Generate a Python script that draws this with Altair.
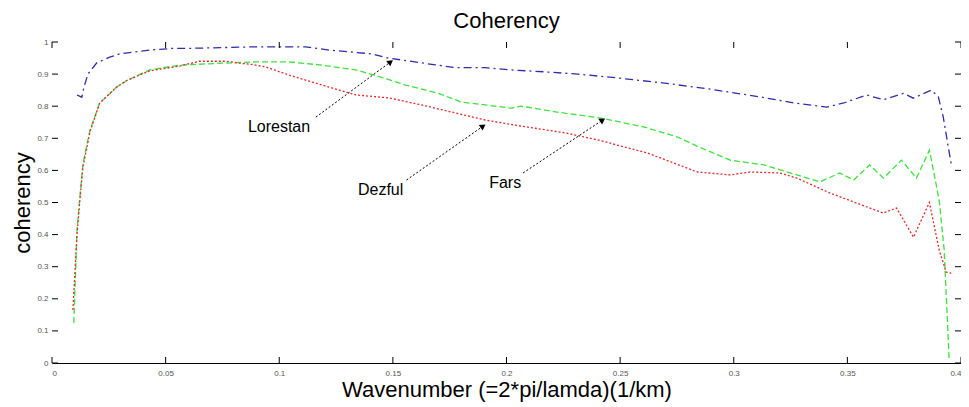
import math
import altair as alt
import pandas as pd

# ---- data ----
lorestan_x = [0.0110, 0.0131, 0.0140, 0.0158, 0.0197, 0.0254, 0.0298, 0.0429, 0.0530, 0.0590,
              0.0898, 0.1117, 0.1218, 0.1407, 0.1480, 0.1626, 0.1775, 0.1906, 0.2020, 0.2169,
              0.2314, 0.2489, 0.2695, 0.2897, 0.3116, 0.3265, 0.3409, 0.3484, 0.3585, 0.3659,
              0.3747, 0.3790, 0.3869, 0.3900, 0.3922, 0.3944, 0.3957]
lorestan_y = [0.835, 0.828, 0.857, 0.900, 0.935, 0.953, 0.963, 0.975, 0.980, 0.980,
              0.985, 0.985, 0.975, 0.963, 0.950, 0.935, 0.920, 0.920, 0.913, 0.907,
              0.900, 0.888, 0.872, 0.853, 0.829, 0.810, 0.797, 0.810, 0.835, 0.820,
              0.840, 0.825, 0.850, 0.830, 0.766, 0.673, 0.620]

fars_x = [0.0096, 0.0110, 0.0123, 0.0136, 0.0167, 0.0210, 0.0241, 0.0285, 0.0329, 0.0429,
          0.0561, 0.0749, 0.0898, 0.1043, 0.1188, 0.1337, 0.1450, 0.1556, 0.1700, 0.1801,
          0.1906, 0.2020, 0.2064, 0.2239, 0.2415, 0.2607, 0.2752, 0.2840, 0.2984, 0.3133,
          0.3278, 0.3379, 0.3466, 0.3528, 0.3598, 0.3659, 0.3738, 0.3804, 0.3861, 0.3904,
          0.3926, 0.3948]
fars_y = [0.125, 0.414, 0.520, 0.620, 0.725, 0.810, 0.830, 0.860, 0.880, 0.913,
          0.928, 0.934, 0.938, 0.938, 0.928, 0.913, 0.890, 0.866, 0.840, 0.813,
          0.804, 0.794, 0.800, 0.780, 0.763, 0.735, 0.704, 0.675, 0.632, 0.617,
          0.586, 0.564, 0.592, 0.570, 0.617, 0.576, 0.632, 0.576, 0.663, 0.508,
          0.352, 0.010]

dezful_x = [0.0092, 0.0110, 0.0123, 0.0136, 0.0167, 0.0210, 0.0285, 0.0329, 0.0429, 0.0561,
            0.0649, 0.0767, 0.0824, 0.0881, 0.0942, 0.1043, 0.1188, 0.1337, 0.1481, 0.1626,
            0.1775, 0.1906, 0.2038, 0.2257, 0.2401, 0.2621, 0.2840, 0.2984, 0.3072, 0.3203,
            0.3278, 0.3422, 0.3541, 0.3659, 0.3716, 0.3791, 0.3861, 0.3904, 0.3935, 0.3957]
dezful_y = [0.165, 0.400, 0.510, 0.610, 0.720, 0.810, 0.860, 0.880, 0.910, 0.925,
            0.940, 0.940, 0.934, 0.930, 0.922, 0.897, 0.866, 0.835, 0.826, 0.804,
            0.779, 0.757, 0.741, 0.717, 0.695, 0.654, 0.595, 0.586, 0.595, 0.592,
            0.576, 0.530, 0.498, 0.467, 0.483, 0.392, 0.500, 0.352, 0.283, 0.280]

series_names = ["Lorestan", "Fars", "Dezful"]
series_colors = ["#2e2ea6", "#3ee03e", "#e02a2a"]
series_dashes = [[8, 4, 2, 4], [6, 3], [2, 2]]

x_ticks = [0, 0.05, 0.1, 0.15, 0.2, 0.25, 0.3, 0.35, 0.4]
y_ticks = [0, 0.1, 0.2, 0.3, 0.4, 0.5, 0.6, 0.7, 0.8, 0.9, 1]

label_text = ["Lorestan", "Dezful", "Fars"]
label_x = [0.0999, 0.1446, 0.1994]
label_y = [0.735, 0.539, 0.561]
arrow_x1 = [0.1161, 0.1560, 0.2073]
arrow_y1 = [0.766, 0.570, 0.592]
arrow_x2 = [0.1490, 0.1897, 0.2423]
arrow_y2 = [0.938, 0.738, 0.757]

# ---- layout ----
W, H = 909, 321
XMAX = 0.4

rows = []
for name, xs_, ys_ in zip(series_names, [lorestan_x, fars_x, dezful_x], [lorestan_y, fars_y, dezful_y]):
    for i, (a, b) in enumerate(zip(xs_, ys_)):
        rows.append({"x": a, "y": b, "series": name, "order": i})
df = pd.DataFrame(rows)

xscale = alt.Scale(domain=[0, XMAX], nice=False, zero=False)
yscale = alt.Scale(domain=[0, 1], nice=False, zero=False)

XTITLE = "Wavenumber (=2*pi/lamda)(1/km)"
YTITLE = "coherency"
xaxis = alt.Axis(values=x_ticks, format="~g", ticks=False, grid=False,
                 domain=True, domainColor="black", domainWidth=1.2,
                 labelFontSize=8, labelColor="#555555", labelPadding=6,
                 title=XTITLE, titleFontSize=22,
                 titleFontWeight="normal", titleColor="black", titlePadding=2)
yaxis = alt.Axis(values=y_ticks, format="~g", ticks=False, grid=False,
                 domain=False, labelFontSize=8, labelColor="#555555",
                 labelPadding=4, title=YTITLE, titleFontSize=22,
                 titleFontWeight="normal", titleColor="black", titlePadding=2)


def X(field):
    return alt.X(field, scale=xscale, axis=xaxis, title=XTITLE)


def Y(field):
    return alt.Y(field, scale=yscale, axis=yaxis, title=YTITLE)


lines = alt.Chart(df).mark_line(strokeWidth=1.3).encode(
    x=X("x:Q"),
    y=Y("y:Q"),
    color=alt.Color("series:N", scale=alt.Scale(domain=series_names, range=series_colors), legend=None),
    strokeDash=alt.StrokeDash("series:N", scale=alt.Scale(domain=series_names, range=series_dashes), legend=None),
    order="order:Q",
)

# inward ticks (MATLAB box style)
xt = pd.DataFrame({"x": x_ticks})
yt = pd.DataFrame({"y": y_ticks})
tick_style = dict(color="black", strokeWidth=1)
bt = alt.Chart(xt).mark_rule(**tick_style).encode(
    x=X("x:Q"), y=alt.value(H), y2=alt.value(H - 6))
tt = alt.Chart(xt).mark_rule(**tick_style).encode(
    x=X("x:Q"), y=alt.value(0), y2=alt.value(6))
lt = alt.Chart(yt).mark_rule(**tick_style).encode(
    y=Y("y:Q"), x=alt.value(0), x2=alt.value(6))
rt = alt.Chart(yt).mark_rule(**tick_style).encode(
    y=Y("y:Q"), x=alt.value(W), x2=alt.value(W - 6))

# annotations
ann = pd.DataFrame({
    "x": label_x, "y": label_y, "text": label_text,
    "ax1": arrow_x1, "ay1": arrow_y1, "ax2": arrow_x2, "ay2": arrow_y2,
})
ann["angle"] = [
    (math.degrees(math.atan2((b - a) * W / XMAX, (d - c) * H)) % 360)
    for a, b, c, d in zip(arrow_x1, arrow_x2, arrow_y1, arrow_y2)
]

texts = alt.Chart(ann).mark_text(fontSize=16, color="black", font="Liberation Sans").encode(
    x=X("x:Q"),
    y=Y("y:Q"),
    text="text:N",
)
arrows = alt.Chart(ann).mark_rule(color="black", strokeWidth=1, strokeDash=[2, 2]).encode(
    x=X("ax1:Q"),
    y=Y("ay1:Q"),
    x2="ax2:Q",
    y2="ay2:Q",
)
heads = alt.Chart(ann).mark_point(shape="triangle-up", filled=True, color="black", size=45, opacity=1).encode(
    x=X("ax2:Q"),
    y=Y("ay2:Q"),
    angle=alt.Angle("angle:Q", scale=None),
)

chart = alt.layer(lines, bt, tt, lt, rt, arrows, heads, texts).properties(
    width=W, height=H,
    title=alt.Title("Coherency", fontSize=22, fontWeight="normal", color="black", offset=5),
    autosize=alt.AutoSizeParams(type="none"),
    padding={"left": 44, "top": 34, "right": 0, "bottom": 40},
).configure(
    font="Liberation Sans",
).configure_view(
    stroke=None,
)

chart.save("out.html", embed_options={"renderer": "svg", "actions": False})
